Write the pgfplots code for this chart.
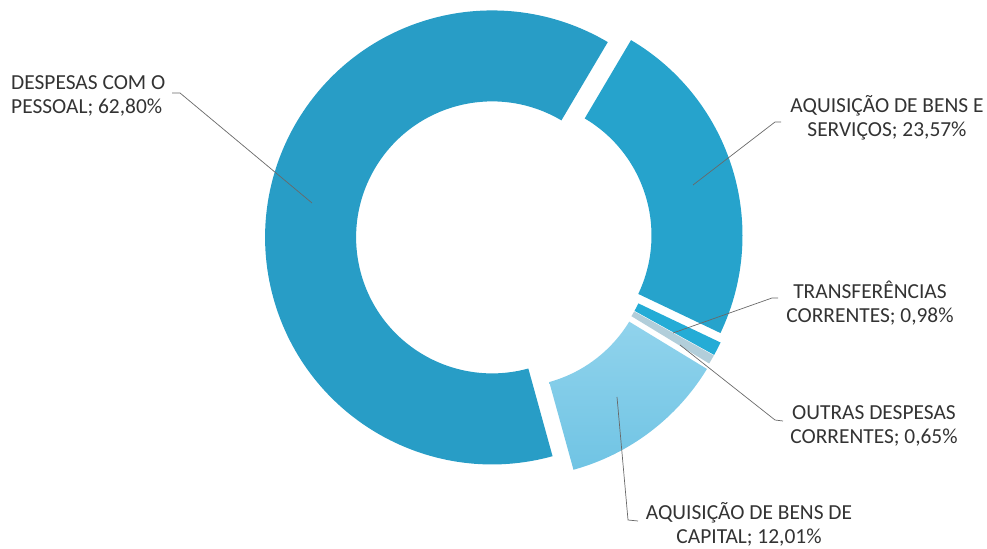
\documentclass[border=0pt]{standalone}
\usepackage{pgfplots}
\pgfplotsset{compat=1.18}
\usepackage{pgfplotstable}
\usepackage{fontspec}
\setmainfont{Carlito}
\definecolor{cpess}{RGB}{40,157,198}
\definecolor{cbens}{RGB}{38,163,204}
\definecolor{ctransf}{RGB}{36,172,214}
\definecolor{coutras}{RGB}{178,206,218}
\definecolor{ccapA}{RGB}{160,218,240}
\definecolor{ccapB}{RGB}{112,196,228}
\definecolor{cline}{RGB}{105,105,105}
% slices in clockwise order: cumulative start (%), value (%), explode (bp)
\pgfplotstableread[col sep=comma]{
name,cum,value,explode
bens,0,23.57,12
transf,23.57,0.98,13
outras,24.55,0.65,13
capital,25.20,12.01,15
pessoal,37.21,62.80,12
}\slices
\newcommand\startangle{59.4}
\newcommand\pcx{504}
\newcommand\pcy{310}
\newcommand\Rout{227}
\newcommand\Rin{136}
% #1 cum, #2 value, #3 explode, #4 fill options
\newcommand\slice[4]{%
\pgfplotsextra{%
 \pgfmathsetmacro\aA{\startangle-3.6*#1}%
 \pgfmathsetmacro\aB{\startangle-3.6*(#1+#2)}%
 \pgfmathsetmacro\aM{(\aA+\aB)/2}%
 \pgfmathsetmacro\ox{\pcx+#3*cos(\aM)}%
 \pgfmathsetmacro\oy{\pcy+#3*sin(\aM)}%
 \path[#4] (axis cs:\ox,\oy) ++(\aA:\Rout bp)
   arc[start angle=\aA, end angle=\aB, radius=\Rout bp]
   -- ++(\aB:-\Rout bp+\Rin bp)
   arc[start angle=\aB, end angle=\aA, radius=\Rin bp] -- cycle;
}}
\begin{document}
\begin{tikzpicture}
\begin{axis}[
  scale only axis, width=987bp, height=549bp,
  xmin=0, xmax=987, ymin=0, ymax=549,
  hide axis, clip=false,
]
\pgfplotstablegetelem{0}{cum}\of\slices \let\cA\pgfplotsretval
\pgfplotstablegetelem{0}{value}\of\slices \let\vA\pgfplotsretval
\pgfplotstablegetelem{0}{explode}\of\slices \let\eA\pgfplotsretval
\pgfplotstablegetelem{1}{cum}\of\slices \let\cB\pgfplotsretval
\pgfplotstablegetelem{1}{value}\of\slices \let\vB\pgfplotsretval
\pgfplotstablegetelem{1}{explode}\of\slices \let\eB\pgfplotsretval
\pgfplotstablegetelem{2}{cum}\of\slices \let\cC\pgfplotsretval
\pgfplotstablegetelem{2}{value}\of\slices \let\vC\pgfplotsretval
\pgfplotstablegetelem{2}{explode}\of\slices \let\eC\pgfplotsretval
\pgfplotstablegetelem{3}{cum}\of\slices \let\cD\pgfplotsretval
\pgfplotstablegetelem{3}{value}\of\slices \let\vD\pgfplotsretval
\pgfplotstablegetelem{3}{explode}\of\slices \let\eD\pgfplotsretval
\pgfplotstablegetelem{4}{cum}\of\slices \let\cE\pgfplotsretval
\pgfplotstablegetelem{4}{value}\of\slices \let\vE\pgfplotsretval
\pgfplotstablegetelem{4}{explode}\of\slices \let\eE\pgfplotsretval
\edef\tmp{\noexpand\slice{\cE}{\vE}{\eE}{fill=cpess}}\tmp
\edef\tmp{\noexpand\slice{\cA}{\vA}{\eA}{fill=cbens}}\tmp
\edef\tmp{\noexpand\slice{\cB}{\vB}{\eB}{fill=ctransf}}\tmp
\edef\tmp{\noexpand\slice{\cC}{\vC}{\eC}{fill=coutras}}\tmp
\edef\tmp{\noexpand\slice{\cD}{\vD}{\eD}{top color=ccapA, bottom color=ccapB}}\tmp
% leader lines
\draw[cline, line width=0.7bp] (axis cs:312,346) -- (axis cs:180,456) -- (axis cs:172,456);
\draw[cline, line width=0.7bp] (axis cs:693,364) -- (axis cs:775,427) -- (axis cs:781,427);
\draw[cline, line width=0.7bp] (axis cs:673,216) -- (axis cs:772,251) -- (axis cs:778,251);
\draw[cline, line width=0.7bp] (axis cs:680,204) -- (axis cs:775,129) -- (axis cs:783,128);
\draw[cline, line width=0.7bp] (axis cs:617,152) -- (axis cs:628,29) -- (axis cs:638,28);
% labels
\begin{scope}[every node/.style={font=\fontsize{21.5}{24}\selectfont, text=black!80, inner sep=0pt}]
\node[anchor=west, align=left] at (axis cs:11,453) {DESPESAS COM O\\PESSOAL; 62,80\%};
\node[align=center] at (axis cs:887,431) {AQUISIÇÃO DE BENS E\\SERVIÇOS; 23,57\%};
\node[align=center] at (axis cs:870,246) {TRANSFERÊNCIAS\\CORRENTES; 0,98\%};
\node[align=center] at (axis cs:874,123) {OUTRAS DESPESAS\\CORRENTES; 0,65\%};
\node[align=center] at (axis cs:749,25) {AQUISIÇÃO DE BENS DE\\CAPITAL; 12,01\%};
\end{scope}
\end{axis}
\pgfresetboundingbox
\path[use as bounding box] (current axis.south west) rectangle (current axis.north east);
\end{tikzpicture}
\end{document}
